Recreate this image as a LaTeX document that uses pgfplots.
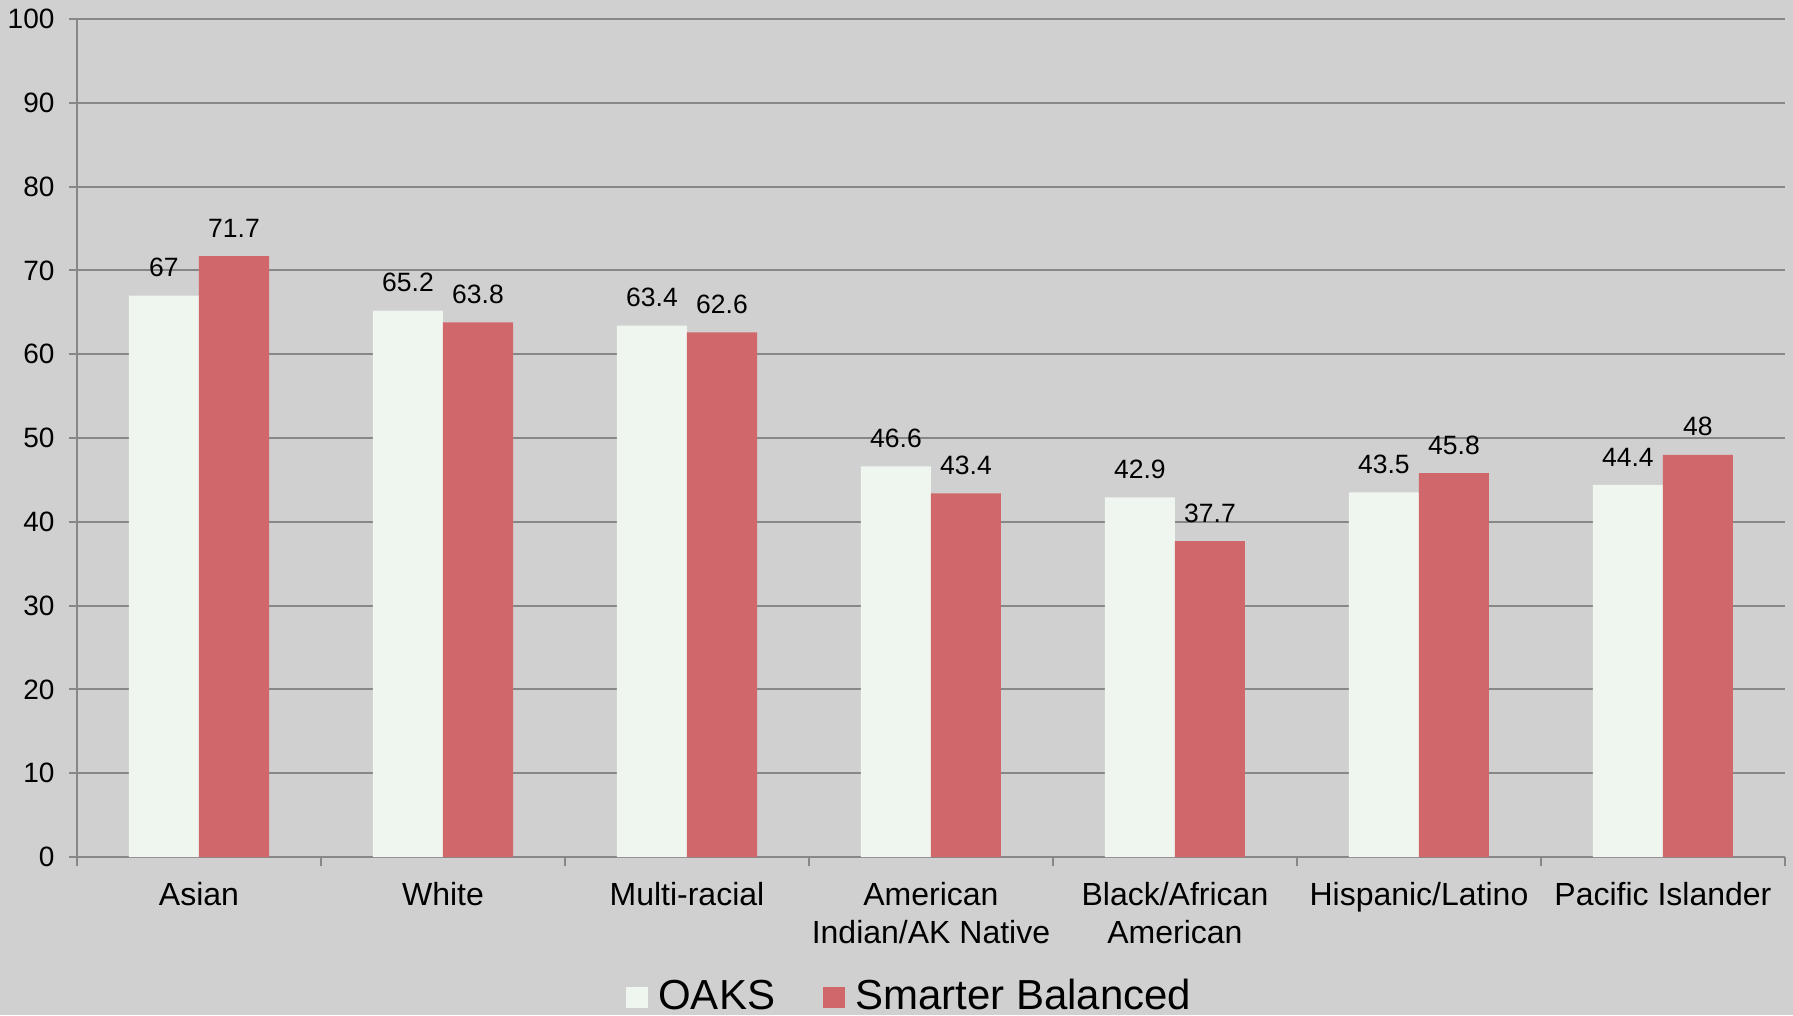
\documentclass[border=0pt]{standalone}
\usepackage{fontspec}
\setmainfont{Liberation Sans}
\usepackage{pgfplots}
\pgfplotsset{compat=1.18}
\definecolor{bg}{HTML}{D0D0D0}
\definecolor{gridcol}{HTML}{878787}
\definecolor{oaks}{HTML}{EFF5EF}
\definecolor{sbred}{HTML}{D0676A}
\begin{document}
\begin{tikzpicture}
\fill[bg] (-77pt,-158pt) rectangle (1716pt,857pt);
\path[use as bounding box] (-77pt,-158pt) rectangle (1716pt,857pt);
\begin{axis}[
  at={(0,0)}, anchor=south west,
  scale only axis, width=1708pt, height=838pt,
  ybar=0pt, bar width=0.287,
  xmin=-0.5, xmax=6.5, ymin=0, ymax=100,
  axis x line*=bottom, axis y line*=left,
  axis line style={line width=2pt, gridcol},
  tick align=outside,
  tick style={line width=2pt, gridcol},
  major tick length=8pt, minor tick length=9pt,
  ytick={0,10,...,100},
  ymajorgrids, grid style={line width=2pt, gridcol},
  xtick={0,...,6},
  major x tick style={draw=none},
  minor xtick={-0.5,0.5,...,6.5},
  xticklabels={Asian, White, Multi-racial, American\\Indian/AK Native, Black/African\\American, Hispanic/Latino, Pacific Islander},
  xticklabel style={font=\fontsize{32}{38}\selectfont, align=center, yshift=-14pt},
  yticklabel style={font=\fontsize{28}{32}\selectfont, xshift=-11pt},
  /pgf/number format/assume math mode=true,
  nodes near coords,
  every node near coord/.append style={font=\fontsize{26.5}{30}\selectfont, yshift=15pt, black},
  legend columns=2,
  legend style={draw=none, fill=none, at={(0.487,-0.165)}, anchor=center,
    font=\fontsize{42}{50}\selectfont, nodes={inner sep=0pt},
    /tikz/every odd column/.append style={column sep=10pt},
    /tikz/every even column/.append style={column sep=48pt}},
]
\addplot[fill=oaks, draw=none,
  legend image code/.code={\fill[oaks] (0pt,-13pt) rectangle (22pt,8pt);}]
  coordinates {(0,67) (1,65.2) (2,63.4) (3,46.6) (4,42.9) (5,43.5) (6,44.4)};
\addplot[fill=sbred, draw=none,
  legend image code/.code={\fill[sbred] (0pt,-13pt) rectangle (22pt,8pt);}]
  coordinates {(0,71.7) (1,63.8) (2,62.6) (3,43.4) (4,37.7) (5,45.8) (6,48)};
\legend{OAKS, Smarter Balanced}
\end{axis}
\end{tikzpicture}
\end{document}
